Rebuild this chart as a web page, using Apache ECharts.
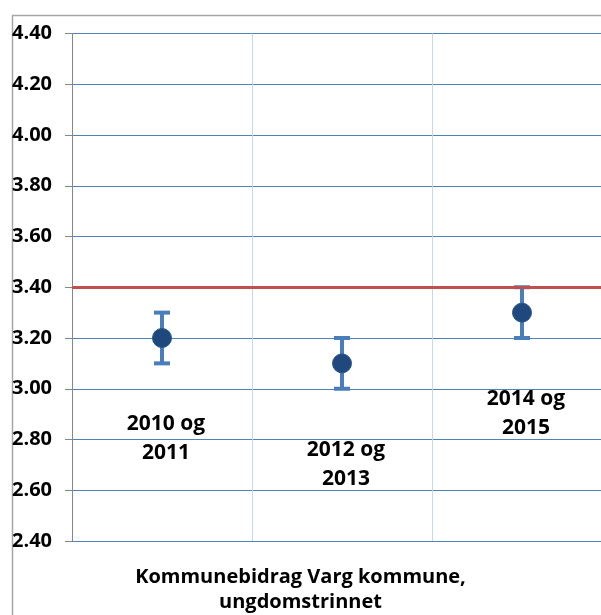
<!DOCTYPE html>
<html>
<head>
<meta charset="utf-8">
<script src="https://cdn.jsdelivr.net/npm/echarts@6/dist/echarts.min.js"></script>
<style>
html,body{margin:0;padding:0;background:#fff;}
#chart{width:601px;height:615px;}
</style>
</head>
<body>
<div id="chart"></div>
<script>
var categories = ['2010 og\n2011', '2012 og\n2013', '2014 og\n2015'];
var means = [3.20, 3.10, 3.30];
var lowers = [3.10, 3.00, 3.20];
var uppers = [3.30, 3.20, 3.40];
var referenceValue = 3.40;
var yMin = 2.40, yMax = 4.40, yStep = 0.20;
var xTitle = 'Kommunebidrag Varg kommune,\nungdomstrinnet';

var font = '"Open Sans", "Noto Sans", sans-serif';
var chart = echarts.init(document.getElementById('chart'), null, {renderer: 'canvas'});

var errData = categories.map(function (c, i) { return [i, lowers[i], uppers[i]]; });
var pointData = categories.map(function (c, i) { return [i, means[i]]; });

chart.setOption({
  animation: false,
  backgroundColor: '#ffffff',
  title: {
    text: xTitle,
    left: 'center',
    top: 560,
    textStyle: {fontFamily: font, fontWeight: 'bold', fontSize: 20, lineHeight: 25, color: '#000'}
  },
  graphic: [{
    type: 'rect',
    left: 10, top: 13,
    shape: {width: 640, height: 640},
    style: {fill: 'none', stroke: '#a6a6a6', lineWidth: 1.5},
    silent: true
  }],
  grid: {left: 72, top: 33.5, width: 540, bottom: 74, containLabel: false, outerBoundsMode: 'none'},
  xAxis: {
    type: 'category',
    data: categories,
    boundaryGap: true,
    axisLine: {show: false},
    axisTick: {show: false},
    axisLabel: {show: false},
    splitLine: {show: true, lineStyle: {color: '#c8d7ee', width: 1}}
  },
  yAxis: {
    type: 'value',
    min: yMin, max: yMax, interval: yStep,
    axisLine: {show: true, lineStyle: {color: '#868686', width: 1}},
    axisTick: {show: true, length: 7, lineStyle: {color: '#868686'}},
    axisLabel: {
      align: 'left', margin: 60,
      fontFamily: font, fontWeight: 'bold', fontSize: 20, color: '#000',
      formatter: function (v) { return v.toFixed(2); }
    },
    splitLine: {show: true, lineStyle: {color: '#4f81bd', width: 1}}
  },
  series: [
    {
      type: 'scatter',
      data: [],
      z: 1,
      markLine: {
        silent: true,
        symbol: 'none',
        label: {show: false},
        lineStyle: {color: '#c0504d', width: 3, type: 'solid'},
        data: [{yAxis: referenceValue}]
      }
    },
    {
      type: 'custom',
      z: 3,
      data: errData,
      renderItem: function (params, api) {
        var x = api.value(0);
        var lo = api.coord([x, api.value(1)]);
        var hi = api.coord([x, api.value(2)]);
        var hw = 8;
        var st = {stroke: '#4a7ebb', lineWidth: 4};
        return {
          type: 'group',
          children: [
            {type: 'line', shape: {x1: lo[0], y1: lo[1], x2: hi[0], y2: hi[1]}, style: st},
            {type: 'line', shape: {x1: lo[0] - hw, y1: lo[1], x2: lo[0] + hw, y2: lo[1]}, style: st},
            {type: 'line', shape: {x1: hi[0] - hw, y1: hi[1], x2: hi[0] + hw, y2: hi[1]}, style: st}
          ]
        };
      }
    },
    {
      type: 'scatter',
      z: 4,
      data: pointData,
      symbol: 'circle',
      symbolSize: 19,
      itemStyle: {color: '#1f497d', borderColor: '#2a5590', borderWidth: 1, opacity: 1},
      label: {
        show: true,
        position: 'inside',
        offset: [4, 101],
        formatter: function (p) { return categories[p.dataIndex]; },
        fontFamily: font, fontWeight: 'bold', fontSize: 21, lineHeight: 29, color: '#000',
        align: 'center'
      }
    }
  ]
});
</script>
</body>
</html>
